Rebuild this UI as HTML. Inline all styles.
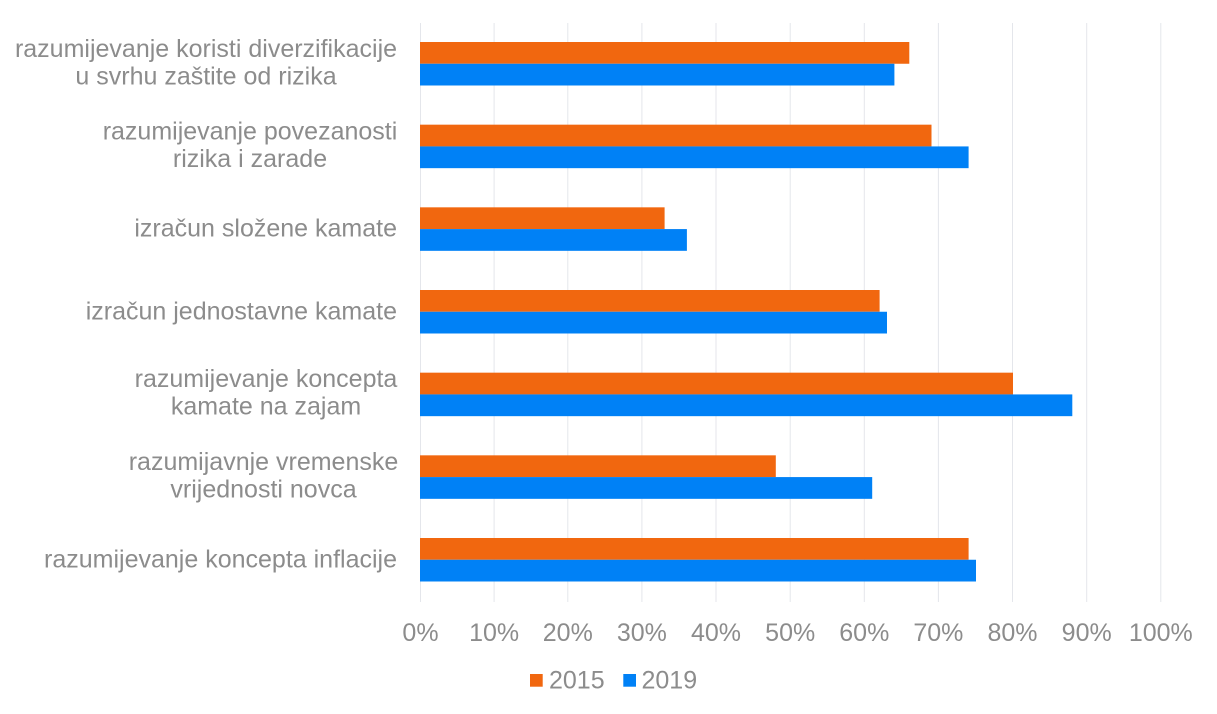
<!DOCTYPE html>
<html>
<head>
<meta charset="utf-8">
<style>
  html, body { margin:0; padding:0; background:#ffffff; }
  svg { display:block; }
  text { font-family: "Liberation Sans", Arial, sans-serif; fill:#8c8c8c; font-size:25px; }
</style>
</head>
<body>
<svg width="1217" height="714" viewBox="0 0 1217 714" xmlns="http://www.w3.org/2000/svg">
  <rect width="1217" height="714" fill="#ffffff"/>
  <!-- gridlines -->
  <g stroke="#e4e6eb" stroke-width="1">
    <line x1="420.5" y1="23" x2="420.5" y2="602"/>
    <line x1="494.1" y1="23" x2="494.1" y2="602"/>
    <line x1="567.8" y1="23" x2="567.8" y2="602"/>
    <line x1="641.9" y1="23" x2="641.9" y2="602"/>
    <line x1="716.0" y1="23" x2="716.0" y2="602"/>
    <line x1="790.2" y1="23" x2="790.2" y2="602"/>
    <line x1="864.3" y1="23" x2="864.3" y2="602"/>
    <line x1="938.4" y1="23" x2="938.4" y2="602"/>
    <line x1="1012.5" y1="23" x2="1012.5" y2="602"/>
    <line x1="1086.7" y1="23" x2="1086.7" y2="602"/>
    <line x1="1160.8" y1="23" x2="1160.8" y2="602"/>
  </g>
  <!-- bars -->
  <g>
    <rect x="420" y="42" width="489.3" height="21.75" fill="#F1670F"/>
    <rect x="420" y="63.75" width="474.4" height="21.75" fill="#0081F6"/>

    <rect x="420" y="124.67" width="511.5" height="21.75" fill="#F1670F"/>
    <rect x="420" y="146.42" width="548.6" height="21.75" fill="#0081F6"/>

    <rect x="420" y="207.33" width="244.6" height="21.75" fill="#F1670F"/>
    <rect x="420" y="229.08" width="266.9" height="21.75" fill="#0081F6"/>

    <rect x="420" y="290" width="459.6" height="21.75" fill="#F1670F"/>
    <rect x="420" y="311.75" width="467.0" height="21.75" fill="#0081F6"/>

    <rect x="420" y="372.67" width="593.0" height="21.75" fill="#F1670F"/>
    <rect x="420" y="394.42" width="652.3" height="21.75" fill="#0081F6"/>

    <rect x="420" y="455.33" width="355.8" height="21.75" fill="#F1670F"/>
    <rect x="420" y="477.08" width="452.2" height="21.75" fill="#0081F6"/>

    <rect x="420" y="538" width="548.6" height="21.75" fill="#F1670F"/>
    <rect x="420" y="559.75" width="556.0" height="21.75" fill="#0081F6"/>
  </g>
  <!-- category labels -->
  <g text-anchor="middle">
    <text x="206" y="56.8">razumijevanje koristi diverzifikacije</text>
    <text x="206" y="84.3">u svrhu zaštite od rizika</text>

    <text x="250" y="139.6">razumijevanje povezanosti</text>
    <text x="250" y="167.1">rizika i zarade</text>

    <text x="266" y="387.2">razumijevanje koncepta</text>
    <text x="266" y="414.7">kamate na zajam</text>

    <text x="263.5" y="470.1">razumijavnje vremenske</text>
    <text x="263.5" y="497.6">vrijednosti novca</text>
  </g>
  <g text-anchor="end">
    <text x="397" y="236.6">izračun složene kamate</text>
    <text x="397" y="319.3">izračun jednostavne kamate</text>
    <text x="397" y="567.3">razumijevanje koncepta inflacije</text>
  </g>
  <!-- x tick labels -->
  <g text-anchor="middle">
    <text x="420.5" y="641">0%</text>
    <text x="494.1" y="641">10%</text>
    <text x="567.8" y="641">20%</text>
    <text x="641.9" y="641">30%</text>
    <text x="716.0" y="641">40%</text>
    <text x="790.2" y="641">50%</text>
    <text x="864.3" y="641">60%</text>
    <text x="938.4" y="641">70%</text>
    <text x="1012.5" y="641">80%</text>
    <text x="1086.7" y="641">90%</text>
    <text x="1160.8" y="641">100%</text>
  </g>
  <!-- legend -->
  <rect x="530" y="674" width="12.7" height="12.7" fill="#F1670F"/>
  <text x="549" y="688.3">2015</text>
  <rect x="623.3" y="674" width="12.7" height="12.7" fill="#0081F6"/>
  <text x="641.5" y="688.3">2019</text>
</svg>
</body>
</html>
